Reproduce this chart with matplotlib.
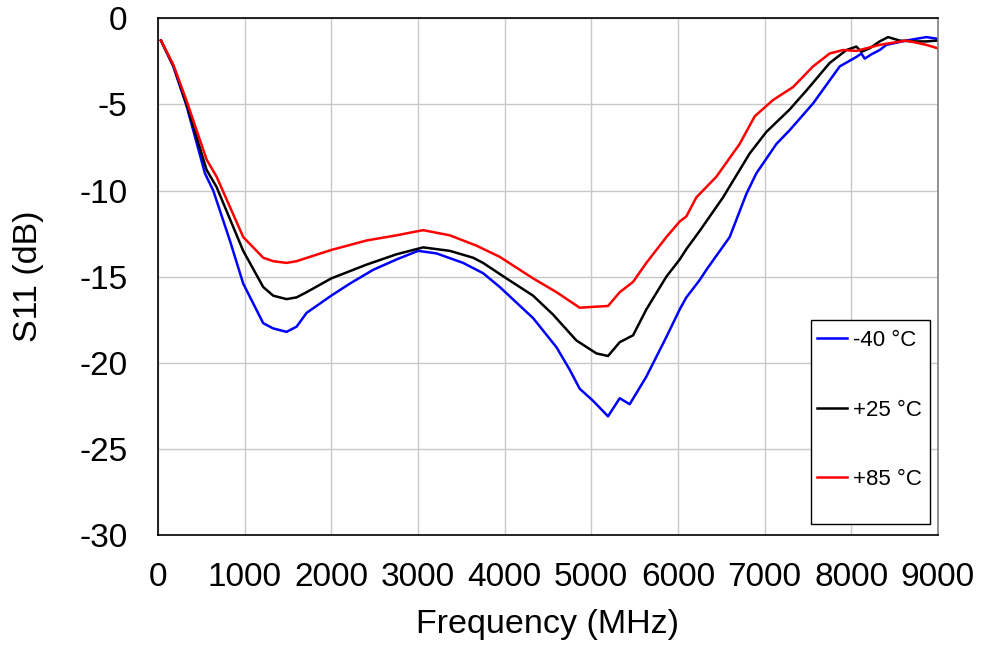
import numpy as np
import matplotlib.pyplot as plt
from matplotlib.patches import Rectangle

plt.rcParams['font.family'] = ['Liberation Sans', 'DejaVu Sans']
plt.rcParams['axes.unicode_minus'] = False

# -40 C
freq_m40 = [35, 177, 331, 542, 638, 830, 984, 1215, 1330, 1484, 1600, 1715, 2000, 2215,
            2484, 2753, 3003, 3215, 3522, 3753, 3945, 4329, 4600, 4752, 4867, 5021, 5194,
            5329, 5444, 5636, 5867, 6021, 6098, 6251, 6329, 6598, 6790, 6906, 7137, 7290,
            7560, 7868, 8060, 8118, 8156, 8233, 8329, 8406, 8637, 8867, 9000]
s11_m40 = [-1.3, -2.8, -5.1, -9.0, -10.0, -12.9, -15.4, -17.7, -18.0, -18.2, -17.9, -17.1,
           -16.1, -15.4, -14.6, -14.0, -13.5, -13.65, -14.2, -14.8, -15.6, -17.4, -19.1,
           -20.4, -21.5, -22.2, -23.1, -22.05, -22.4, -20.8, -18.5, -16.9, -16.2, -15.2,
           -14.6, -12.7, -10.2, -9.0, -7.3, -6.5, -4.95, -2.8, -2.25, -2.05, -2.35, -2.1,
           -1.85, -1.55, -1.3, -1.1, -1.2]

# +25 C
freq_p25 = [35, 177, 331, 561, 677, 984, 1215, 1330, 1484, 1600, 1715, 2000, 2407, 2753,
            3060, 3368, 3637, 3752, 4022, 4329, 4560, 4829, 5060, 5194, 5329, 5483, 5636,
            5867, 6021, 6098, 6251, 6521, 6829, 7021, 7290, 7483, 7752, 7945, 8060, 8118,
            8213, 8329, 8425, 8560, 8714, 8867, 9000]
s11_p25 = [-1.3, -2.75, -5.0, -8.8, -9.8, -13.5, -15.6, -16.1, -16.3, -16.2, -15.9, -15.1,
           -14.3, -13.7, -13.3, -13.5, -13.9, -14.2, -15.1, -16.1, -17.2, -18.7, -19.45,
           -19.6, -18.8, -18.4, -16.9, -15.0, -14.0, -13.4, -12.35, -10.4, -7.85, -6.6,
           -5.3, -4.2, -2.6, -1.85, -1.65, -1.95, -1.75, -1.35, -1.1, -1.3, -1.35, -1.35,
           -1.3]

# +85 C
freq_p85 = [35, 177, 331, 561, 677, 984, 1215, 1330, 1484, 1600, 1753, 2000, 2407, 2753,
            3060, 3368, 3676, 3945, 4022, 4330, 4600, 4867, 5021, 5194, 5329, 5483, 5636,
            5867, 6021, 6098, 6213, 6444, 6713, 6886, 7098, 7329, 7560, 7752, 7906, 8060,
            8329, 8637, 8867, 9000]
s11_p85 = [-1.3, -2.7, -4.8, -8.2, -9.2, -12.7, -13.9, -14.1, -14.2, -14.1, -13.85, -13.45,
           -12.9, -12.6, -12.3, -12.6, -13.2, -13.85, -14.1, -15.1, -15.9, -16.8, -16.75,
           -16.7, -15.9, -15.3, -14.2, -12.7, -11.8, -11.5, -10.4, -9.2, -7.3, -5.7, -4.75,
           -4.0, -2.8, -2.05, -1.85, -1.9, -1.55, -1.3, -1.55, -1.75]

labels = ['-40 °C', '+25 °C', '+85 °C']
colors = ['#0000ff', '#000000', '#ff0000']

fig = plt.figure(figsize=(9.81, 6.48), dpi=100)
ax = fig.add_axes([0.161, 0.174, 0.795, 0.798])

ax.plot(freq_m40, s11_m40, color=colors[0], lw=1.8, label=labels[0])
ax.plot(freq_p25, s11_p25, color=colors[1], lw=1.8, label=labels[1])
ax.plot(freq_p85, s11_p85, color=colors[2], lw=1.8, label=labels[2])

ax.set_xlim(0, 9000)
ax.set_ylim(-30, 0)
ax.set_xticks(np.arange(0, 9001, 1000))
ax.set_yticks(np.arange(-30, 1, 5))
ax.grid(True, color='#c8c8c8', lw=1)
ax.set_axisbelow(True)
ax.tick_params(length=0, labelsize=24)
ax.tick_params(axis='x', pad=19)
ax.tick_params(axis='y', pad=22)
for s in ax.spines.values():
    s.set_color('#000000')
    s.set_linewidth(1.2)
ax.spines['right'].set_color('#808080')

ax.set_xlabel('Frequency (MHz)', fontsize=24.5, labelpad=12)
ax.set_ylabel('S11 (dB)', fontsize=24.5, labelpad=25)

# legend box
ax.add_patch(Rectangle((0.837, 0.022), 0.153, 0.394, transform=ax.transAxes,
                       facecolor='white', edgecolor='black', lw=1, zorder=5))
leg = ax.legend(loc='upper left', bbox_to_anchor=(0.84, 0.405), frameon=False,
                fontsize=16, labelspacing=2.18, handlelength=1.35, handletextpad=0.23,
                borderpad=0.2, borderaxespad=0)
leg.set_zorder(6)

fig.savefig('out.png', dpi=100)
